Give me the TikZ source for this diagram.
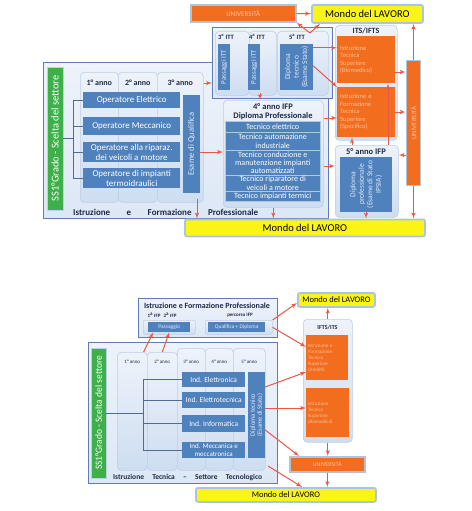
\documentclass[tikz,border=0pt]{standalone}
\usepackage{fontspec}
\setmainfont{Carlito}
\usetikzlibrary{positioning,calc,arrows}

\definecolor{boxblue}{RGB}{79,129,189}
\definecolor{panelline}{RGB}{95,125,180}
\definecolor{panellight}{RGB}{238,243,250}
\definecolor{paneldark}{RGB}{206,221,241}
\definecolor{colline}{RGB}{188,206,232}
\definecolor{itsorange}{RGB}{242,110,30}
\definecolor{workyellow}{RGB}{250,245,20}
\definecolor{workframe}{RGB}{172,196,228}
\definecolor{scelta}{RGB}{62,176,74}
\definecolor{arrowred}{RGB}{232,88,68}
\definecolor{headtext}{RGB}{30,42,70}

\tikzstyle{panel} = [draw=panelline, line width=0.8pt, top color=panellight,
  bottom color=paneldark!70, anchor=north west, inner sep=0pt]
\tikzstyle{column} = [draw=colline, line width=0.6pt, rounded corners=4pt,
  top color=panellight, bottom color=paneldark, anchor=north west, inner sep=0pt]
\tikzstyle{course} = [fill=boxblue, text=white, align=center, anchor=north west,
  inner sep=0pt, font=\fontsize{9}{9.5}\selectfont]
\tikzstyle{vcourse} = [fill=boxblue, text=white!85!boxblue, align=center,
  rotate=90, anchor=center, inner sep=0pt]
\tikzstyle{higher} = [fill=itsorange, text=white!55!itsorange, align=left,
  anchor=north west, inner sep=0pt, font=\fontsize{6.5}{7.5}\selectfont]
\tikzstyle{uni} = [fill=itsorange, draw=workframe, line width=1.6pt,
  text=white!55!itsorange, anchor=north west, inner sep=0pt,
  font=\fontsize{7}{8}\selectfont]
\tikzstyle{work} = [fill=workyellow, draw=workframe, line width=1.8pt,
  rounded corners=2pt, anchor=north west, inner sep=0pt,
  font=\fontsize{10.5}{11}\selectfont]
\tikzstyle{head} = [text=headtext, inner sep=0pt, font=\bfseries\fontsize{8}{9}\selectfont]
\tikzstyle{tree} = [draw=panelline!85!black, line width=0.7pt]
\tikzstyle{flow} = [draw=arrowred, line width=1pt, -latex']

\begin{document}
\begin{tikzpicture}[x=1pt, y=-1pt]
\useasboundingbox (0,0) rectangle (471,511);

% ==========================================
% TOP: IeFP main frame
% ==========================================
\node[panel, minimum width=285, minimum height=156] (ifp) at (43,62) {};
\node[panel, minimum width=120, minimum height=71] (itt) at (212,27) {};

\node[column, minimum width=38, minimum height=130] (c1) at (80,72) {};
\node[column, minimum width=39, minimum height=130] (c2) at (118,72) {};
\node[column, minimum width=46, minimum height=130] (c3) at (157,72) {};
\node[head, font=\bfseries\fontsize{8}{9}\selectfont] (h1) at (c1.north |- 0,83) {1° anno};
\node[head, font=\bfseries\fontsize{8}{9}\selectfont] (h2) at (c2.north |- 0,83) {2° anno};
\node[head, font=\bfseries\fontsize{8}{9}\selectfont] (h3) at (c3.north |- 0,83) {3° anno};

\node[course, minimum width=97, minimum height=16] (elettrico) at (83,92) {Operatore Elettrico};
\node[course, minimum width=97, minimum height=18] (meccanico) at (83,117) {Operatore Meccanico};
\node[course, minimum width=97, minimum height=20] (riparaz) at (83,142) {Operatore alla riparaz.\\dei veicoli a motore};
\node[course, minimum width=97, minimum height=20] (termo) at (83,168) {Operatore di impianti\\termoidraulici};
\node[vcourse, minimum width=98, minimum height=17, font=\fontsize{8.5}{9}\selectfont] (qualifica) at (191.5,144) {Esame di Qualifica};

\node[vcourse, fill=scelta, draw=colline, line width=0.8pt, text=white, minimum width=143,
  minimum height=16, font=\fontsize{10.5}{11}\selectfont] (scelta) at (55,138.5) {SS1°Grado - Scelta del settore};

% tree
\coordinate (branch) at (73,138);
\draw[tree] (scelta.south |- branch) -- (branch);
\draw[tree] (branch |- elettrico.west) -- (branch |- termo.west);
\foreach \n in {elettrico,meccanico,riparaz,termo}
  { \draw[tree] (branch |- \n.west) -- (\n.west); }

\node[head, font=\bfseries\fontsize{9}{10}\selectfont, anchor=west] (ifplabel) at (73,212)
  {\hbox to 185pt{Istruzione\hfill e\hfill Formazione\hfill Professionale}};

% ==========================================
% TOP: ITT
% ==========================================
\node[column, minimum width=34, minimum height=64] (t3) at (215,31) {};
\node[column, minimum width=27, minimum height=64] (t4) at (249,31) {};
\node[column, minimum width=51, minimum height=64] (t5) at (277,31) {};
\node[head, font=\bfseries\fontsize{6.5}{7}\selectfont] at (226,37) {3\textsuperscript{a} ITT};
\node[head, font=\bfseries\fontsize{6.5}{7}\selectfont] at (257,37) {4\textsuperscript{a} ITT};
\node[head, font=\bfseries\fontsize{6.5}{7}\selectfont] at (297,37) {5\textsuperscript{a} ITT};
\node[vcourse, minimum width=46, minimum height=12, font=\fontsize{7}{8}\selectfont] (passaggi1) at (224,67) {Passaggi ITT};
\node[vcourse, minimum width=46, minimum height=12, font=\fontsize{7}{8}\selectfont] (passaggi2) at (254,67) {Passaggi ITT};
\node[vcourse, minimum width=46, minimum height=33, font=\fontsize{7.5}{8.5}\selectfont] (diptec) at (296.5,67) {Diploma\\tecnico\\(Esame Stato)};

\node[uni, minimum width=105, minimum height=17] (univ) at (190,4) {UNIVERSITÀ};
\node[work, minimum width=111, minimum height=18] (mondo) at (311,4) {Mondo del LAVORO};

% ==========================================
% TOP: ITS / 5th year / university bar
% ==========================================
\node[column, minimum width=62, minimum height=115] (its) at (335,25) {};
\node[head] at (366,31) {ITS/IFTS};
\node[higher, text width=52, minimum height=47, inner xsep=3pt] (its1) at (337,36)
  {Istruzione\\Tecnica\\Superiore\\(Biomedico)};
\node[higher, text width=52, minimum height=50, inner xsep=3pt] (its2) at (337,87)
  {Istruzione e\\Formazione\\Tecnica\\Superiore\\(Specifico)};

\node[column, minimum width=63, minimum height=72] (ifp5) at (335,145) {};
\node[head, font=\bfseries\fontsize{8.5}{9}\selectfont] at (366,152) {5° anno IFP};
\node[vcourse, minimum width=55, minimum height=52, font=\fontsize{7.5}{8.5}\selectfont] (dipprof) at (366,184.5)
  {Diploma\\professionale\\(Esame di Stato\\IPSIA)};

\node[uni, anchor=center, rotate=90, minimum width=125, minimum height=14] (univbar) at (413.5,123) {UNIVERSITÀ};

% ==========================================
% TOP: 4th year IFP
% ==========================================
\node[column, minimum width=100, minimum height=107] (ifp4) at (223,100) {};
\node[head, font=\bfseries\fontsize{8.5}{9}\selectfont] at (273,107) {4° anno IFP};
\node[head, font=\bfseries\fontsize{8.5}{9}\selectfont] at (273,116) {Diploma Professionale};
\node[course, draw=white!55!boxblue, line width=0.4pt, font=\fontsize{8}{8.3}\selectfont,
  minimum width=95, minimum height=11] (te1) at (225,121) {Tecnico elettrico};
\node[course, draw=white!55!boxblue, line width=0.4pt, font=\fontsize{8}{8.3}\selectfont,
  minimum width=95, minimum height=18] (te2) at (225,132) {Tecnico automazione\\industriale};
\node[course, draw=white!55!boxblue, line width=0.4pt, font=\fontsize{8}{8.3}\selectfont,
  minimum width=95, minimum height=25] (te3) at (225,150) {Tecnico conduzione e\\manutenzione impianti\\automatizzati};
\node[course, draw=white!55!boxblue, line width=0.4pt, font=\fontsize{8}{8.3}\selectfont,
  minimum width=95, minimum height=16] (te4) at (225,175) {Tecnico riparatore di\\veicoli a motore};
\node[course, draw=white!55!boxblue, line width=0.4pt, font=\fontsize{8}{8.3}\selectfont,
  minimum width=95, minimum height=10] (te5) at (225,191) {Tecnico impianti termici};

\node[work, minimum width=240, minimum height=17] (mondob) at (184,218.5) {Mondo del LAVORO};

% top arrows
\coordinate (fork) at (310,33);
\coordinate (qout) at ([yshift=-8pt]qualifica.south);
\coordinate (exitifp) at (197,199);
\coordinate (ittlink) at (260,93);
\coordinate (dt1) at ([yshift=-4pt]diptec.south east);
\coordinate (dt2) at ([yshift=-22pt]diptec.south east);
\draw[flow] (univ) -- (mondo);
\draw[flow] (fork) -- (univ.south east);
\draw[flow] (fork) -- ([xshift=9pt]mondo.south west);
\draw[flow] (c3.east |- h3) -- (itt.west |- h3);
\draw[flow] (qout) -- (qout -| ifp4.west);
\draw[flow] (exitifp) -- (exitifp |- mondob.north);
\draw[flow] (ittlink) -- (ittlink |- ifp4.north);
\draw[flow] (dt1) -- (dt1 -| its1.west);
\draw[flow] (dt2) -- (its2.north west);
\draw[flow] (ifp4.east |- 0,118) -- (its2.west |- 0,118);
\draw[flow] (ifp4.east |- 0,166) -- (ifp5.west |- 0,166);
\draw[flow] (ifp4.south) -- (ifp4.south |- mondob.north);
\draw[flow] (dipprof.west) -- (dipprof.west |- mondob.north);
\draw[flow] (its1.east |- 0,72) -- (univbar.north |- 0,72);
\draw[flow] (its2.east |- 0,112) -- (univbar.north |- 0,112);
\draw[flow] (univbar.north |- 0,155) -- (ifp5.east |- 0,155);
\draw[flow] (univbar.east) -- (univbar.east |- mondo.south);
\draw[flow] (univbar.west) -- (univbar.west |- mondob.north);
\draw[flow] (ifp5.north -| 388,0) -- (its1.south -| 388,0);
\draw[flow] (ifp5.north -| 352,0) -- (its2.south -| 352,0);

% ==========================================
% BOTTOM: IeFP box
% ==========================================
\node[panel, minimum width=139, minimum height=39] (iefp) at (138,298) {};
\node[head, font=\bfseries\fontsize{8}{9}\selectfont] (iefptitle) at (207,306) {Istruzione e Formazione Professionale};
\node[head, font=\bfseries\fontsize{5}{6}\selectfont] at (154,315) {1\textsuperscript{a} IFP};
\node[head, font=\bfseries\fontsize{5}{6}\selectfont] at (170,315) {2\textsuperscript{a} IFP};
\node[head, font=\bfseries\fontsize{5}{6}\selectfont] at (240,315) {percorso IFP};
\node[column, rounded corners=2pt, minimum width=52, minimum height=14] (pbox) at (143,320) {};
\node[column, rounded corners=2pt, minimum width=67, minimum height=14] (qbox) at (205,320) {};
\node[course, font=\fontsize{5.5}{6}\selectfont, text=white!85!boxblue, minimum width=42, minimum height=10] (passaggio) at (148,322) {Passaggio};
\node[course, font=\fontsize{5.5}{6}\selectfont, text=white!85!boxblue, minimum width=57, minimum height=10] (qualdip) at (208,322) {Qualifica + Diploma};

% ==========================================
% BOTTOM: Istruzione Tecnica
% ==========================================
\node[panel, minimum width=189, minimum height=141] (itec) at (88,342) {};
\node[vcourse, fill=scelta, draw=colline, line width=0.8pt, text=white, minimum width=130,
  minimum height=15, font=\fontsize{9.5}{10}\selectfont] (scelta2) at (98.5,413) {SS1°Grado - Scelta del settore};

\node[column, minimum width=30, minimum height=118] (d1) at (117,352) {};
\node[column, minimum width=30, minimum height=118] (d2) at (147,352) {};
\node[column, minimum width=28, minimum height=122] (d3) at (177,348) {};
\node[column, minimum width=28, minimum height=122] (d4) at (205,348) {};
\node[column, minimum width=32, minimum height=122] (d5) at (233,348) {};
\node[head, font=\fontsize{5}{6}\selectfont] at (d1.north |- 0,362) {1° anno};
\node[head, font=\fontsize{5}{6}\selectfont] at (d2.north |- 0,362) {2° anno};
\node[head, font=\fontsize{5}{6}\selectfont] at (d3.north |- 0,362) {3° anno};
\node[head, font=\fontsize{5}{6}\selectfont] at (d4.north |- 0,362) {4° anno};
\node[head, font=\fontsize{5}{6}\selectfont] at (d5.north |- 0,362) {5° anno};

\node[course, font=\fontsize{7.5}{8}\selectfont, minimum width=63, minimum height=15] (elettronica) at (182,372) {Ind. Elettronica};
\node[course, font=\fontsize{7.5}{8}\selectfont, minimum width=63, minimum height=16] (elettrotecnica) at (182,392) {Ind. Elettrotecnica};
\node[course, font=\fontsize{7.5}{8}\selectfont, minimum width=63, minimum height=17] (informatica) at (182,415) {Ind. Informatica};
\node[course, font=\fontsize{7}{7.5}\selectfont, minimum width=63, minimum height=16] (meccanica) at (182,442) {Ind. Meccanica e\\meccatronica};
\node[vcourse, minimum width=86, minimum height=17, font=\fontsize{6.5}{7}\selectfont] (diptec2) at (256.5,415) {Diploma tecnico\\(Esame di Stato)};

\coordinate (branch2) at (143,413);
\draw[tree] (scelta2.south |- branch2) -- (branch2);
\draw[tree] (branch2 |- elettronica.west) -- (branch2 |- meccanica.west);
\foreach \n in {elettronica,elettrotecnica,informatica,meccanica}
  { \draw[tree] (branch2 |- \n.west) -- (\n.west); }

\node[head, font=\bfseries\fontsize{7.5}{8}\selectfont, anchor=west] (iteclabel) at (113,477)
  {\hbox to 149pt{Istruzione\hfill Tecnica\hfill --\hfill Settore\hfill Tecnologico}};

% ==========================================
% BOTTOM: right side
% ==========================================
\node[work, font=\fontsize{8.5}{9}\selectfont, minimum width=77, minimum height=14] (mondo2) at (297,292) {Mondo del LAVORO};
\node[column, minimum width=49, minimum height=123] (itsb) at (303,319) {};
\node[head, font=\bfseries\fontsize{6}{7}\selectfont] at (327.5,328) {IFTS/ITS};
\node[higher, font=\fontsize{5}{6}\selectfont, text width=38, minimum height=45, inner xsep=2pt] (its2a) at (306,335)
  {Istruzione e\\Formazione\\Tecnica\\Superiore\\(Ambiti)};
\node[higher, font=\fontsize{5}{6}\selectfont, text width=39, minimum height=49, inner xsep=2pt] (its2b) at (306,388)
  {Istruzione\\Tecnica\\Superiore\\(Biomedica)};
\node[uni, font=\fontsize{6}{7}\selectfont, minimum width=75, minimum height=15] (univ2) at (289,456) {UNIVERSITÀ};
\node[work, font=\fontsize{8.5}{9}\selectfont, minimum width=180, minimum height=14] (mondo3) at (195,487) {Mondo del LAVORO};

% bottom arrows
\coordinate (itecout) at (268,466);
\draw[flow] ([xshift=-4pt]d1.north east) -- ([xshift=-16pt]passaggio.south);
\draw[flow] (d2.north) -- (passaggio.south);
\draw[flow] (qbox.north east) -- ([yshift=-3pt]mondo2.west);
\draw[flow] (qbox.east) -- (its2a.west |- 0,347);
\draw[flow] (diptec2.south |- 0,387) -- (its2a.west |- 0,372);
\draw[flow] (diptec2.south |- 0,408) -- (its2b.west |- 0,408);
\draw[flow] (diptec2.south |- 0,430) -- ([xshift=10pt]univ2.north west);
\draw[flow] (itecout) -- (mondo3.north -| 302,0);
\draw[flow] (itsb.north) -- (itsb.north |- mondo2.south);
\draw[flow] (itsb.south) -- (itsb.south |- univ2.north);
\draw[flow] (univ2.south) -- (univ2.south |- mondo3.north);

\end{tikzpicture}
\end{document}
